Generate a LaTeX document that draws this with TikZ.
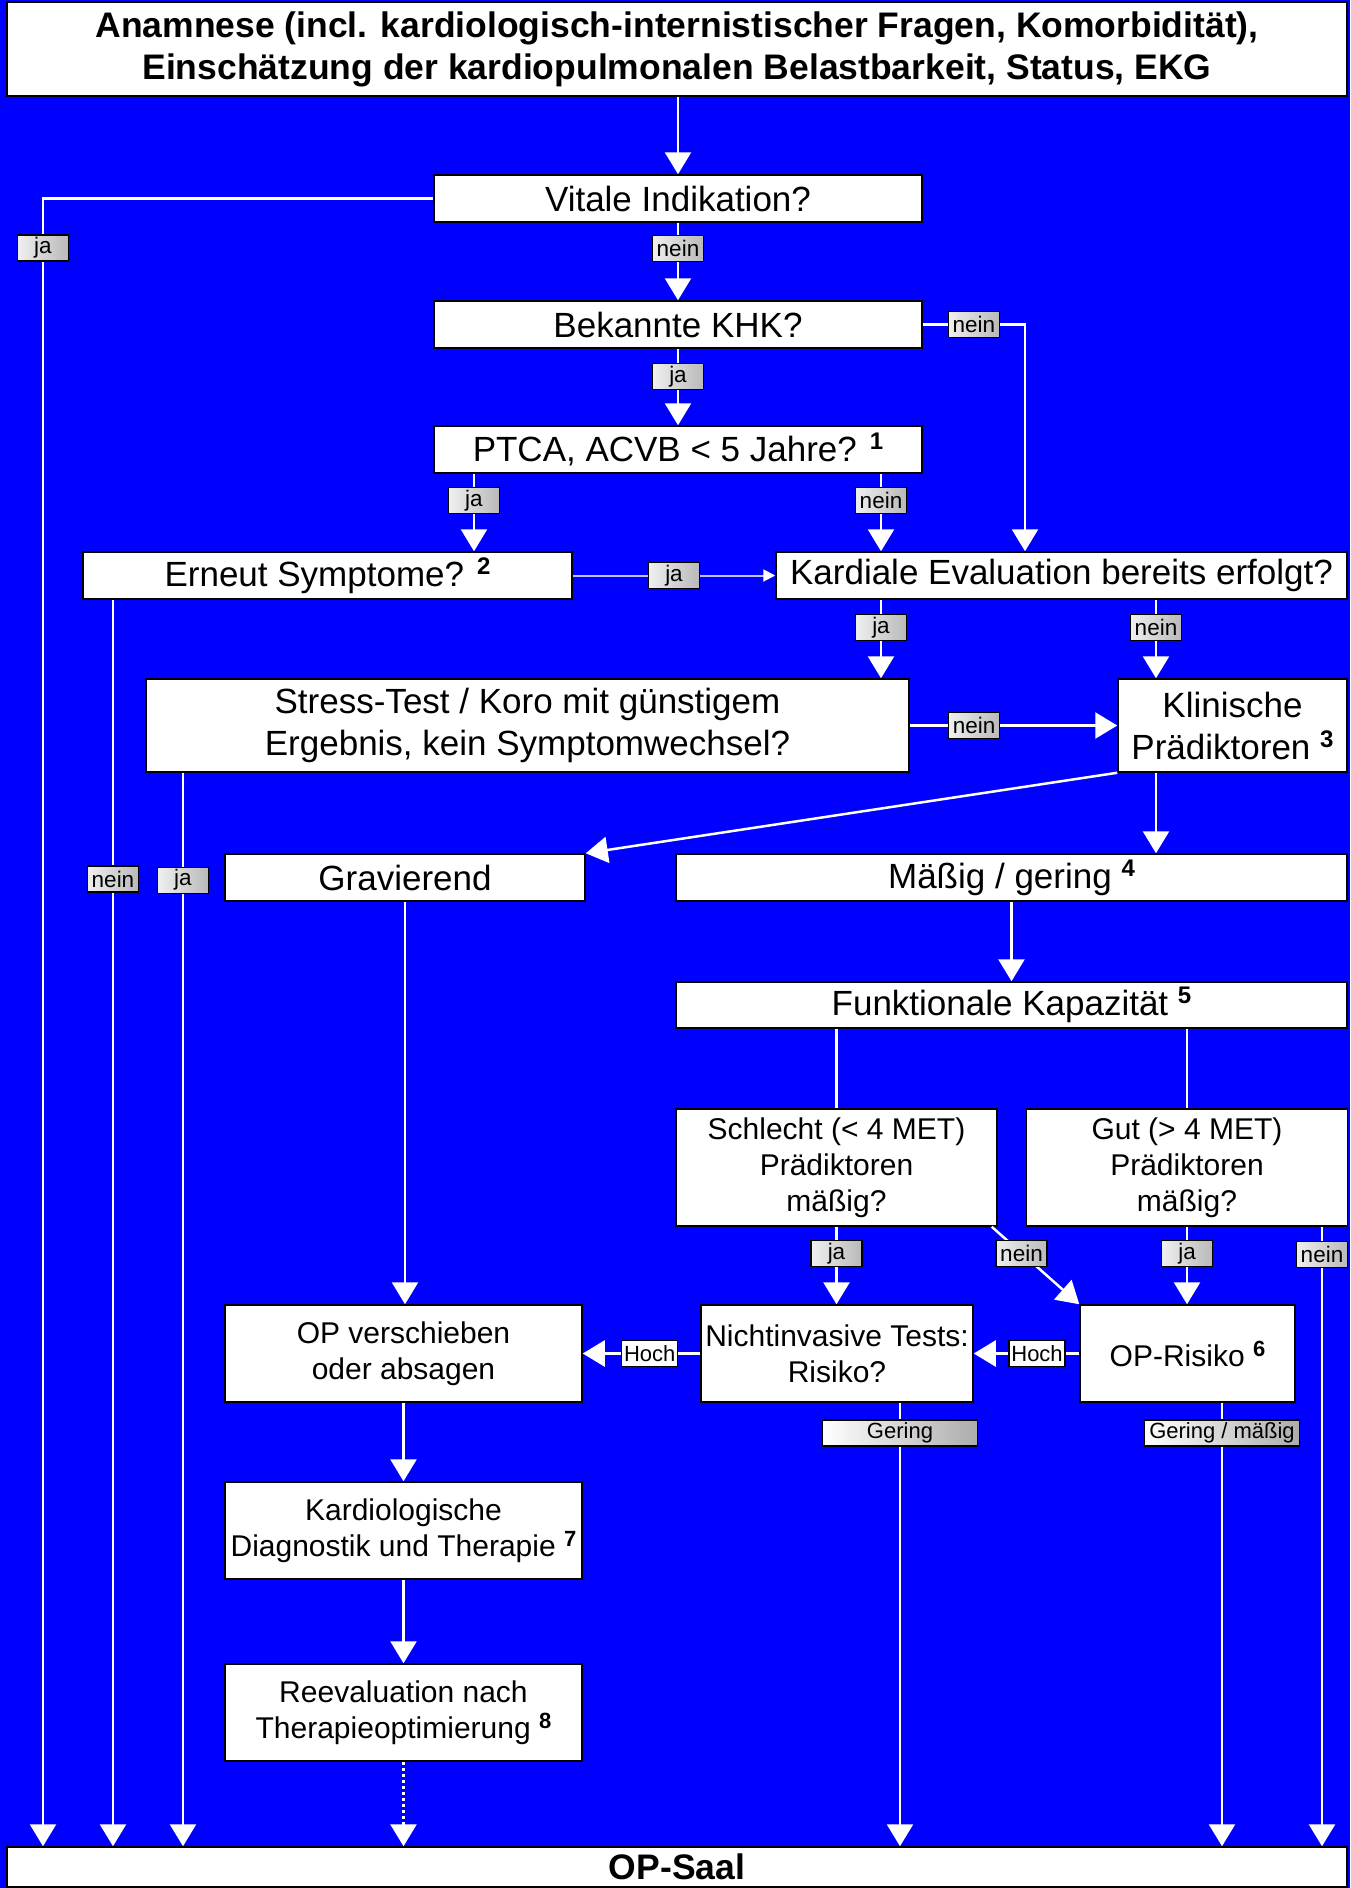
\documentclass[tikz,border=0pt]{standalone}
\usepackage{fontspec}
\setmainfont{Liberation Sans}
\usetikzlibrary{arrows.meta, positioning}

\newcommand\fnote[1]{\raisebox{12pt}{\fontsize{24}{24}\selectfont\bfseries #1}}
\newcommand\fnotesm[1]{\raisebox{10pt}{\fontsize{22}{22}\selectfont\bfseries #1}}

\begin{document}
\begin{tikzpicture}[x=1pt, y=-1pt,
    box/.style = {shape=rectangle, draw=black, line width=1.5pt, fill=white,
      align=center, inner sep=0pt, font=\fontsize{35}{42}\selectfont},
    boxsm/.style = {box, font=\fontsize{30}{36}\selectfont},
    head/.style = {box, font=\fontsize{35.5}{42}\selectfont\bfseries},
    lab/.style = {shape=rectangle, draw=black, line width=1.2pt,
      left color=gray!12, right color=gray!55, minimum width=51pt,
      minimum height=26pt, inner sep=0pt, font=\fontsize{22.5}{22}\selectfont},
    hochlab/.style = {shape=rectangle, draw=black, line width=1.2pt, fill=white,
      minimum width=56pt, minimum height=26pt, inner sep=0pt,
      font=\fontsize{22}{22}\selectfont},
    gerlab/.style = {shape=rectangle, draw=black, line width=1.2pt,
      left color=white, middle color=white, right color=gray!65,
      minimum width=155pt, minimum height=26pt, inner sep=0pt,
      font=\fontsize{22}{22}\selectfont},
    line/.style = {draw=white, line width=2.5pt},
    arr/.style = {line, -{Triangle[width=26pt, length=22pt]}},
    thinarr/.style = {draw=blue!25!white, line width=2pt,
      -{Triangle[width=12pt, length=12pt, color=white]}}]

  \fill[blue] (0,0) rectangle (1350,1888);
  \useasboundingbox (0,0) rectangle (1350,1888);

  % columns of the long lines down to the OP
  \coordinate (xja) at (43,0);
  \coordinate (xnein) at (113,0);
  \coordinate (xja2) at (183,0);
  \coordinate (xkhk) at (1025,0);
  \coordinate (xgering) at (900,0);
  \coordinate (xmaessig) at (1222,0);
  \coordinate (xnein2) at (1322,0);

  % boxes
  \node[head, minimum width=1340pt, minimum height=94pt] (anam) at (677,49)
    {Anamnese (incl. kardiologisch-internistischer Fragen, Komorbidität),\\
     Einschätzung der kardiopulmonalen Belastbarkeit, Status, EKG};
  \node[box, minimum width=488pt, minimum height=47pt] (vital) at (678,198.5) {Vitale Indikation?};
  \node[box, minimum width=488pt, minimum height=47pt] (khk) at (678,324.5) {Bekannte KHK?};
  \node[box, minimum width=488pt, minimum height=47pt] (ptca) at (678,449.5) {PTCA, ACVB < 5 Jahre? \fnote{1}};
  \node[box, minimum width=489pt, minimum height=47pt] (erneut) at (327.5,575.5) {Erneut Symptome? \fnote{2}};
  \node[box, minimum width=571pt, minimum height=47pt] (kardial) at (1061.5,575.5) {Kardiale Evaluation bereits erfolgt?};
  \node[box, minimum width=763pt, minimum height=93pt] (stress) at (527.5,725.5)
    {Stress-Test / Koro mit günstigem\\ Ergebnis, kein Symptomwechsel?};
  \node[box, minimum width=229pt, minimum height=93pt] (klin) at (1232.5,725.5)
    {Klinische\\ Prädiktoren \fnote{3}};
  \node[box, minimum width=360pt, minimum height=47pt] (grav) at (405,877.5) {Gravierend};
  \node[box, minimum width=671pt, minimum height=47pt] (maessig) at (1011.5,877.5) {Mäßig / gering \fnote{4}};
  \node[box, minimum width=671pt, minimum height=46pt] (funkt) at (1011.5,1005) {Funktionale Kapazität \fnote{5}};
  \node[boxsm, minimum width=321pt, minimum height=117pt] (schlecht) at (836.5,1167.5)
    {Schlecht (< 4 MET)\\ Prädiktoren\\ mäßig?};
  \node[boxsm, minimum width=321pt, minimum height=117pt] (gut) at (1187,1167.5)
    {Gut (> 4 MET)\\ Prädiktoren\\ mäßig?};
  \node[boxsm, minimum width=272pt, minimum height=97pt] (nichtinv) at (837,1353.5)
    {Nichtinvasive Tests:\\ Risiko?};
  \node[boxsm, minimum width=215pt, minimum height=97pt] (oprisk) at (1187.5,1353.5) {OP-Risiko \fnotesm{6}};
  \node[boxsm, minimum width=357pt, minimum height=97pt] (opversch) at (403.5,1353.5)
    {OP verschieben\\ oder absagen};
  \node[boxsm, minimum width=357pt, minimum height=97pt] (kardio) at (403.5,1530.5)
    {Kardiologische\\ Diagnostik und Therapie \fnotesm{7}};
  \node[boxsm, minimum width=357pt, minimum height=97pt] (reeval) at (403.5,1712.5)
    {Reevaluation nach\\ Therapieoptimierung \fnotesm{8}};
  \node[head, minimum width=1340pt, minimum height=40pt] (saal) at (677,1867) {OP-Saal};

  % connectors
  \draw[arr] (anam.south -| vital) -- (vital.north);
  \draw[arr] (vital) -- node[lab, pos=.33] {nein} (khk);
  \draw[arr] (vital.west) -| node[lab, pos=.515] {ja} (xja |- saal.north);
  \draw[arr] (khk) -- node[lab, pos=.36] {ja} (ptca);
  \draw[arr] (khk.east) -| node[lab, pos=.25] {nein} (xkhk |- kardial.north);
  \draw[arr] ([xshift=-204pt]ptca.south) -- node[lab, pos=.35] {ja} ([xshift=-204pt]ptca.south |- erneut.north);
  \draw[arr] ([xshift=203pt]ptca.south) -- node[lab, pos=.35] {nein} ([xshift=203pt]ptca.south |- kardial.north);
  \draw[thinarr] (erneut) -- node[lab] {ja} (kardial);
  \draw[arr] (xnein |- erneut.south) -- node[lab, pos=.224] {nein} (xnein |- saal.north);
  \draw[arr] ([xshift=-180.5pt]kardial.south) -- node[lab, pos=.35] {ja} ([xshift=-180.5pt]kardial.south |- stress.north);
  \draw[arr] ([xshift=94.5pt]kardial.south) -- node[lab, pos=.35] {nein} ([xshift=94.5pt]kardial.south |- klin.north);
  \draw[arr] (stress) -- node[lab, pos=.31] {nein} (klin);
  \draw[arr] (xja2 |- stress.south) -- node[lab, pos=.1] {ja} (xja2 |- saal.north);
  \draw[arr] (klin.south west) -- (grav.north east);
  \draw[arr] ([xshift=-76.5pt]klin.south) -- ([xshift=-76.5pt]klin.south |- maessig.north);
  \draw[arr] (maessig) -- (funkt);
  \draw[line] (funkt.south -| schlecht) -- (schlecht);
  \draw[line] (funkt.south -| gut) -- (gut);
  \draw[arr] (grav.south) -- (grav.south |- opversch.north);
  \draw[arr] (schlecht) -- node[lab, pos=.35] {ja} (schlecht |- nichtinv.north);
  \draw[arr] ([xshift=-6pt]schlecht.south east) -- node[lab, pos=.34] {nein} (oprisk.north west);
  \draw[arr] (gut) -- node[lab, pos=.35] {ja} (gut |- oprisk.north);
  \draw[arr] (xnein2 |- gut.south) -- node[lab, pos=.045] {nein} (xnein2 |- saal.north);
  \draw[arr] (oprisk) -- node[hochlab, pos=.4] {Hoch} (nichtinv);
  \draw[arr] (nichtinv) -- node[hochlab, pos=.43] {Hoch} (opversch);
  \draw[arr] (xgering |- nichtinv.south) -- node[gerlab, pos=.068] {Gering} (xgering |- saal.north);
  \draw[arr] (xmaessig |- oprisk.south) -- node[gerlab, pos=.068] {Gering / mäßig} (xmaessig |- saal.north);
  \draw[arr] (opversch) -- (kardio);
  \draw[arr] (kardio) -- (reeval);
  \draw[arr, dash pattern=on 3pt off 3pt] (reeval) -- (reeval |- saal.north);
\end{tikzpicture}
\end{document}
